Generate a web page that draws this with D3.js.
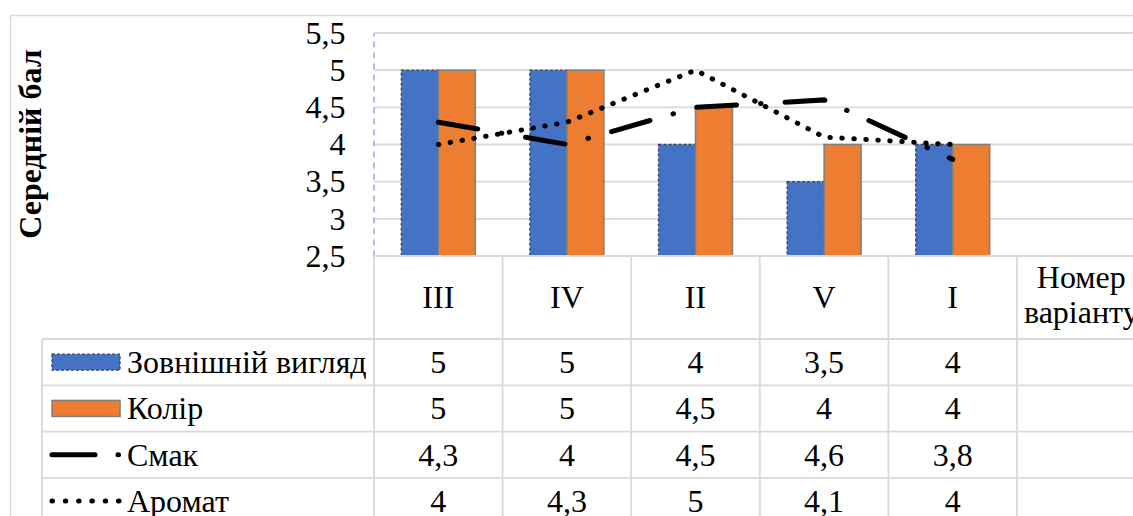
<!DOCTYPE html>
<html><head><meta charset="utf-8">
<script src="https://cdn.jsdelivr.net/npm/d3@7"></script>
<style>
body{margin:0;background:#fff}
svg{display:block}
</style>
</head><body><svg id="c" width="1133" height="516"></svg>
<script>
// ---- data ----
const categories = ["III","IV","II","V","I","Номер варіанту"];
const appearance = [5,5,4,3.5,4];
const colour = [5,5,4.5,4,4];
const taste = [4.3,4,4.5,4.6,3.8];
const aroma = [4,4.3,5,4.1,4];
const seriesNames = ["Зовнішній вигляд","Колір","Смак","Аромат"];
const yTicks = [2.5,3,3.5,4,4.5,5,5.5];
const yTickLabels = ["2,5","3","3,5","4","4,5","5","5,5"];
const yTitle = "Середній бал";

// ---- layout ----
const FONT = "'Liberation Serif', Tinos, 'Times New Roman', serif";
const W = 1133, H = 516;
const plotL = 374, plotT = 33, plotB = 256, bandW = 128.6;
const headerB = 339, rowH = 46.3, legendL = 42;
const barW = 37;
const grid = "#d9d9d9";
const blue = "#4472c4", orange = "#ed7d31";
const FS = 32;

const svg = d3.select("#c");
const x = d3.scaleBand().domain(categories).range([plotL, plotL + bandW*categories.length]).paddingInner(0).paddingOuter(0);
const y = d3.scaleLinear().domain([2.5,5.5]).range([plotB, plotT]);
const cx = c => x(c) + x.bandwidth()/2;
const fmt = v => String(v).replace(".", ",");
function txt(sel) { sel.attr("font-family", FONT).attr("fill", "#000"); }

// outer chart border
svg.append("path").attr("d", `M10.5,${H} V15.5 H${W}`).attr("fill","none").attr("stroke",grid).attr("stroke-width",1.5);

// gridlines
svg.append("g").selectAll("line").data(yTicks).join("line")
  .attr("x1", plotL).attr("x2", W).attr("y1", d=>y(d)).attr("y2", d=>y(d))
  .attr("stroke", grid).attr("stroke-width", 1.8);

// bars
const cats5 = categories.slice(0, appearance.length);
svg.append("g").selectAll("rect").data(cats5).join("rect")
  .attr("x", c => cx(c) - barW).attr("width", barW)
  .attr("y", (c,i) => y(appearance[i])).attr("height", (c,i) => plotB - y(appearance[i]))
  .attr("fill", blue).attr("stroke", "#3a4660").attr("stroke-width", 1.3).attr("stroke-dasharray", "3,2");
svg.append("g").selectAll("rect").data(cats5).join("rect")
  .attr("x", c => cx(c)).attr("width", barW)
  .attr("y", (c,i) => y(colour[i])).attr("height", (c,i) => plotB - y(colour[i]))
  .attr("fill", orange).attr("stroke", "#7f7f7f").attr("stroke-width", 1.5);

// lines
const line = d3.line().x((d,i) => cx(cats5[i])).y(d => y(d));
svg.append("path").attr("d", line(taste)).attr("fill","none").attr("stroke","#000")
  .attr("stroke-width",5).attr("stroke-linecap","round").attr("stroke-dasharray","40 24 0.5 24");
svg.append("path").attr("d", line(aroma)).attr("fill","none").attr("stroke","#000")
  .attr("stroke-width",5).attr("stroke-linecap","round").attr("stroke-dasharray","0.5 11.5");

// y axis
const yAxis = d3.axisLeft(y).tickValues(yTicks).tickFormat((d,i)=>yTickLabels[i]).tickSize(0).tickSizeOuter(0).tickPadding(28);
const ga = svg.append("g").attr("transform", `translate(${plotL-0.5},0)`).call(yAxis);
ga.attr("font-family", FONT).attr("font-size", FS);
ga.select(".domain").attr("stroke","#8faadc").attr("stroke-width",1.5).attr("stroke-dasharray","6,5");
ga.selectAll(".tick text").attr("font-size", FS).call(txt);

// y title
svg.append("text").attr("transform", `translate(41,144) rotate(-90)`).attr("text-anchor","middle")
  .attr("font-size", FS).attr("font-weight","bold").call(txt).text(yTitle);

// ---- data table ----
const rows = d3.scaleBand().domain(seriesNames).range([headerB, headerB + rowH*seriesNames.length]);
const tg = svg.append("g");
tg.append("line").attr("x1", plotL).attr("x2", W).attr("y1", plotB).attr("y2", plotB).attr("stroke",grid).attr("stroke-width",1.8);
tg.selectAll("line.h").data(seriesNames).join("line").attr("class","h")
  .attr("x1", legendL).attr("x2", W).attr("y1", d=>rows(d)).attr("y2", d=>rows(d)).attr("stroke",grid).attr("stroke-width",1.8);
tg.selectAll("line.v").data(categories).join("line").attr("class","v")
  .attr("x1", c=>x(c)).attr("x2", c=>x(c)).attr("y1", plotB).attr("y2", H).attr("stroke",grid).attr("stroke-width",1.8);
tg.append("line").attr("x1", legendL).attr("x2", legendL).attr("y1", headerB).attr("y2", H).attr("stroke",grid).attr("stroke-width",1.8);

// header labels
tg.selectAll("text.hdr").data(categories).join("text").attr("class","hdr")
  .attr("text-anchor","middle").attr("font-size",FS).call(txt)
  .each(function(c){
    const t = d3.select(this);
    const parts = c.split(" ");
    if (parts.length === 1) t.attr("x", cx(c)).attr("y", 308).text(c);
    else parts.forEach((p,k) => t.append("tspan").attr("x", cx(c)).attr("y", 288 + k*35).text(p));
  });

// values + legend labels
const seriesValues = [appearance, colour, taste, aroma];
seriesNames.forEach((name, si) => {
  const base = rows(name) + rows.bandwidth()/2 + 11;
  tg.append("g").selectAll("text").data(seriesValues[si]).join("text")
    .attr("x", (v,i) => cx(categories[i])).attr("y", base)
    .attr("text-anchor","middle").attr("font-size",FS).call(txt).text(v => fmt(v));
  tg.append("text").attr("x", 127).attr("y", base).attr("font-size",FS).call(txt).text(name);
});

// legend keys
const kc = n => rows(n) + rows.bandwidth()/2;
tg.append("rect").attr("x",52).attr("y",kc(seriesNames[0])-8).attr("width",68).attr("height",16)
  .attr("fill",blue).attr("stroke","#3a4660").attr("stroke-width",1.3).attr("stroke-dasharray","3,2");
tg.append("rect").attr("x",52).attr("y",kc(seriesNames[1])-8).attr("width",68).attr("height",16)
  .attr("fill",orange).attr("stroke","#7f7f7f").attr("stroke-width",1.5);
tg.append("path").attr("d",`M52,${kc(seriesNames[2])} H121`).attr("stroke","#000").attr("stroke-width",5)
  .attr("stroke-linecap","round").attr("stroke-dasharray","43 23 0.5 30").attr("fill","none");
tg.append("path").attr("d",`M52,${kc(seriesNames[3])} H119`).attr("stroke","#000").attr("stroke-width",5)
  .attr("stroke-linecap","round").attr("stroke-dasharray","0.5 12.8").attr("fill","none");
</script>
</body></html>
